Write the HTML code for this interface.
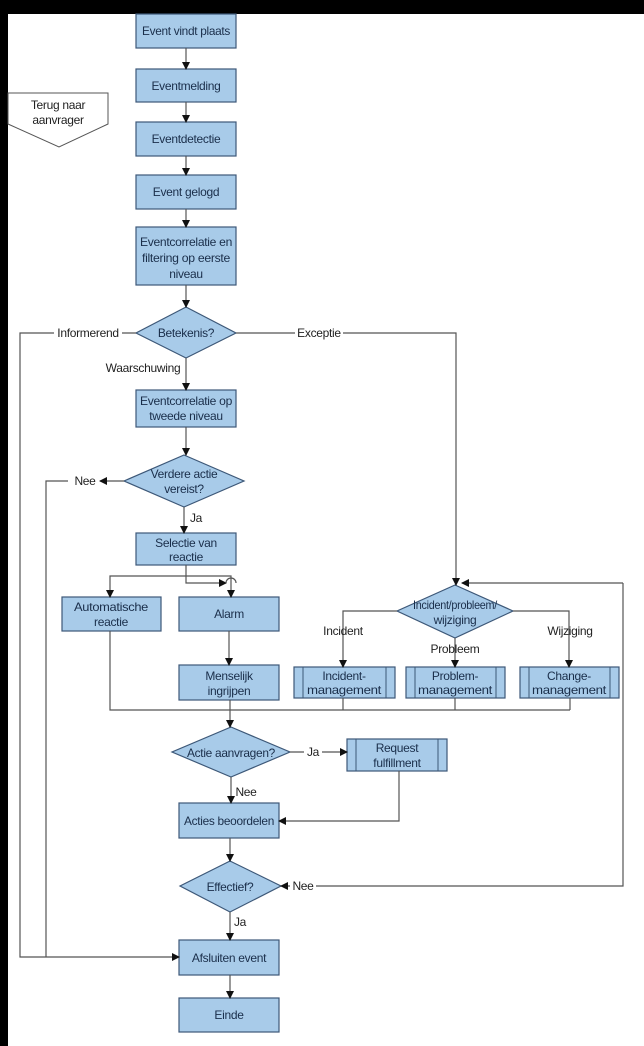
<!DOCTYPE html>
<html><head><meta charset="utf-8"><style>
html,body{margin:0;padding:0;background:#000;}
svg{display:block;}
text{font-family:"Liberation Sans Narrow","Liberation Sans",sans-serif;font-size:12px;fill:#1a2e4a;text-anchor:middle;letter-spacing:-0.3px;}
.l{fill:#222;}
</style></head><body>
<svg width="644" height="1046" viewBox="0 0 644 1046" xmlns="http://www.w3.org/2000/svg">
<defs><marker id="a" markerWidth="8" markerHeight="8" refX="7" refY="4" orient="auto" markerUnits="userSpaceOnUse"><path d="M0,0 L8,4 L0,8 z" fill="#111"/></marker></defs>
<rect x="0" y="0" width="644" height="1046" fill="#000"/>
<rect x="8" y="14" width="636" height="1032" fill="#fff"/>
<g fill="#a8cbe9" stroke="#3d5878" stroke-width="1.2">
<rect x="136" y="14" width="100" height="34"/>
<rect x="136" y="69" width="100" height="33"/>
<rect x="136" y="122" width="100" height="34"/>
<rect x="136" y="175" width="100" height="34"/>
<rect x="136" y="227" width="100" height="58"/>
<polygon points="186,307 236,333 186,358 136,333"/>
<rect x="136" y="390" width="100" height="37"/>
<polygon points="184,455 244,481 184,507 124,481"/>
<rect x="136" y="533" width="100" height="32"/>
<rect x="62" y="597" width="99" height="34"/>
<rect x="179" y="597" width="100" height="34"/>
<polygon points="455,585 513,611 455,638 397,611"/>
<rect x="179" y="665" width="100" height="35"/>
<rect x="294" y="667" width="101" height="31"/>
<rect x="406" y="667" width="99" height="31"/>
<rect x="520" y="667" width="99" height="31"/>
<polygon points="231,727 290,752 231,777 172,752"/>
<rect x="347" y="739" width="100" height="32"/>
<rect x="179" y="803" width="100" height="35"/>
<polygon points="230,861 281,886 230,912 180,886"/>
<rect x="179" y="940" width="100" height="35"/>
<rect x="179" y="998" width="100" height="34"/>
</g>
<g stroke="#3d5878" stroke-width="1">
<line x1="303" y1="667" x2="303" y2="698"/><line x1="386" y1="667" x2="386" y2="698"/>
<line x1="415" y1="667" x2="415" y2="698"/><line x1="496" y1="667" x2="496" y2="698"/>
<line x1="529" y1="667" x2="529" y2="698"/><line x1="610" y1="667" x2="610" y2="698"/>
<line x1="356" y1="739" x2="356" y2="771"/><line x1="438" y1="739" x2="438" y2="771"/>
</g>
<polygon points="8,93 108,93 108,124 59,147 8,124" fill="#fff" stroke="#555" stroke-width="1"/>
<g stroke="#555" stroke-width="1.2" fill="none">
<line x1="186" y1="48" x2="186" y2="69" marker-end="url(#a)"/>
<line x1="186" y1="102" x2="186" y2="122" marker-end="url(#a)"/>
<line x1="186" y1="156" x2="186" y2="175" marker-end="url(#a)"/>
<line x1="186" y1="209" x2="186" y2="227" marker-end="url(#a)"/>
<line x1="186" y1="285" x2="186" y2="307" marker-end="url(#a)"/>
<line x1="186" y1="358" x2="186" y2="390" marker-end="url(#a)"/>
<line x1="186" y1="427" x2="186" y2="455" marker-end="url(#a)"/>
<line x1="184" y1="507" x2="184" y2="533" marker-end="url(#a)"/>
<polyline points="136,333 20,333 20,957 179,957" marker-end="url(#a)"/>
<polyline points="236,333 456,333 456,585" marker-end="url(#a)"/>
<polyline points="68,481 46,481 46,957"/>
<line x1="124" y1="481" x2="100" y2="481" marker-end="url(#a)"/>
<polyline points="186,565 186,583 226,583 M236,583 L449,583" marker-end="url(#a)"/>
<path d="M226,583 A5,5 0 0 1 236,583"/>
<polyline points="186,576 110,576 110,597" marker-end="url(#a)"/>
<polyline points="186,576 231,576 231,597" marker-end="url(#a)"/>
<polyline points="623,583 462,583" marker-end="url(#a)"/>
<polyline points="229,631 229,665" marker-end="url(#a)"/>
<polyline points="397,611 343,611 343,667" marker-end="url(#a)"/>
<polyline points="455,638 455,667" marker-end="url(#a)"/>
<polyline points="513,611 569,611 569,667" marker-end="url(#a)"/>
<polyline points="110,631 110,710 570,710"/>
<line x1="343" y1="698" x2="343" y2="710"/><line x1="455" y1="698" x2="455" y2="710"/><line x1="570" y1="698" x2="570" y2="710"/>
<polyline points="230,700 230,727" marker-end="url(#a)"/>
<polyline points="290,752 347,752" marker-end="url(#a)"/>
<polyline points="231,777 231,803" marker-end="url(#a)"/>
<polyline points="399,771 399,821 279,821" marker-end="url(#a)"/>
<polyline points="230,838 230,861" marker-end="url(#a)"/>
<polyline points="623,583 623,886 281,886" marker-end="url(#a)"/>
<polyline points="230,912 230,940" marker-end="url(#a)"/>
<polyline points="230,975 230,998" marker-end="url(#a)"/>
</g>
<g fill="#fff">
<rect x="54" y="326" width="68" height="14"/><rect x="295" y="326" width="48" height="14"/>
<rect x="72" y="474" width="26" height="14"/><rect x="304" y="745" width="18" height="14"/>
<rect x="290" y="879" width="26" height="14"/>
</g>
<text x="186" y="35" textLength="88" lengthAdjust="spacingAndGlyphs">Event vindt plaats</text>
<text x="186" y="90">Eventmelding</text>
<text x="186" y="143">Eventdetectie</text>
<text x="186" y="196">Event gelogd</text>
<text x="186" y="246" textLength="92" lengthAdjust="spacingAndGlyphs">Eventcorrelatie en</text>
<text x="186" y="262" textLength="88" lengthAdjust="spacingAndGlyphs">filtering op eerste</text>
<text x="186" y="278">niveau</text>
<text x="186" y="337">Betekenis?</text>
<text x="186" y="405" textLength="92" lengthAdjust="spacingAndGlyphs">Eventcorrelatie op</text>
<text x="186" y="420">tweede niveau</text>
<text x="184" y="478">Verdere actie</text>
<text x="184" y="493">vereist?</text>
<text x="186" y="547">Selectie van</text>
<text x="186" y="561">reactie</text>
<text x="111" y="611" textLength="74" lengthAdjust="spacingAndGlyphs">Automatische</text>
<text x="111" y="626">reactie</text>
<text x="229" y="618">Alarm</text>
<text x="455" y="609" textLength="84" lengthAdjust="spacingAndGlyphs">Incident/probleem/</text>
<text x="455" y="624">wijziging</text>
<text x="229" y="680">Menselijk</text>
<text x="229" y="695">ingrijpen</text>
<text x="344" y="680">Incident-</text>
<text x="344" y="694" textLength="74" lengthAdjust="spacingAndGlyphs">management</text>
<text x="455" y="680">Problem-</text>
<text x="455" y="694" textLength="74" lengthAdjust="spacingAndGlyphs">management</text>
<text x="569" y="680">Change-</text>
<text x="569" y="694" textLength="74" lengthAdjust="spacingAndGlyphs">management</text>
<text x="231" y="757" textLength="88" lengthAdjust="spacingAndGlyphs">Actie aanvragen?</text>
<text x="397" y="752">Request</text>
<text x="397" y="767">fulfillment</text>
<text x="229" y="825" textLength="90" lengthAdjust="spacingAndGlyphs">Acties beoordelen</text>
<text x="230" y="891">Effectief?</text>
<text x="229" y="962">Afsluiten event</text>
<text x="229" y="1019">Einde</text>
<text x="58" y="109" class="l">Terug naar</text>
<text x="58" y="124" class="l">aanvrager</text>
<text x="88" y="337" class="l">Informerend</text>
<text x="319" y="337" class="l">Exceptie</text>
<text x="143" y="372" class="l">Waarschuwing</text>
<text x="85" y="485" class="l">Nee</text>
<text x="196" y="522" class="l">Ja</text>
<text x="343" y="635" class="l">Incident</text>
<text x="455" y="653" class="l">Probleem</text>
<text x="570" y="635" class="l">Wijziging</text>
<text x="313" y="756" class="l">Ja</text>
<text x="246" y="796" class="l">Nee</text>
<text x="303" y="890" class="l">Nee</text>
<text x="240" y="926" class="l">Ja</text>
</svg>
</body></html>
